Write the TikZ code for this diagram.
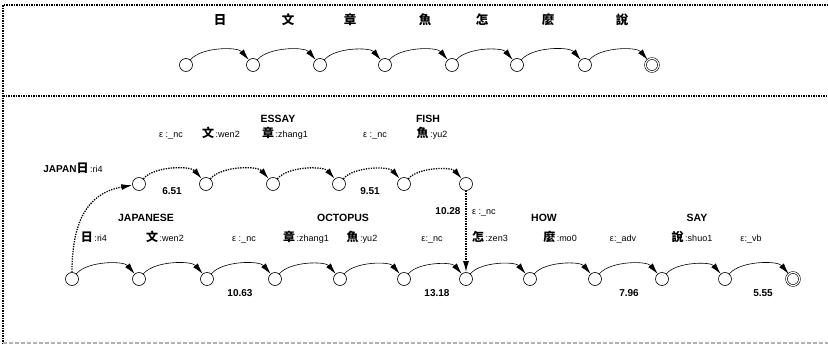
\documentclass[tikz,border=0pt]{standalone}
\usepackage{fontspec}
\setmainfont{Liberation Sans}
\newfontfamily\cjk{Noto Sans CJK TC}
\usetikzlibrary{arrows.meta}

\newcommand{\arclab}[2]{{\cjk\bfseries\fontsize{12}{12}\selectfont #1}\,#2}

\tikzset{
  state/.style={draw, circle, minimum size=13pt, inner sep=0pt, semithick},
  final/.style={state, double, double distance=1.2pt},
  arc/.style={-{Latex[length=11pt,width=6pt]}, semithick, out=50, in=130, looseness=0.75},
  dotarc/.style={arc, line width=1.3pt, dash pattern=on 1.3pt off 1.2pt},
  frame/.style={line width=1.2pt, dash pattern=on 1.5pt off 1pt},
  word/.style={font=\bfseries\fontsize{10.5}{11}\selectfont, anchor=base},
  score/.style={font=\bfseries\fontsize{10}{11}\selectfont, anchor=base},
  tag/.style={font=\fontsize{9}{10}\selectfont, anchor=base, inner sep=1pt},
  hanzi/.style={font=\cjk\bfseries\fontsize{12.5}{13}\selectfont, anchor=base}
}

\begin{document}
\begin{tikzpicture}[x=1pt, y=-1pt]
\useasboundingbox (0,0) rectangle (828,345);

% frames
\draw[frame] (828,5) -- (3,5) -- (3,343);
\draw[frame] (3,96) -- (828,96);
\draw[frame, gray!60, dash pattern=on 4pt off 2pt] (3,343) -- (828,343);

% sentence
\foreach \x [count=\i from 0] in {186,253,320,385,452,517,585}
  \node[state] (t\i) at (\x,65) {};
\node[final] (t7) at (652,65) {};
\foreach \j [count=\i from 0] in {1,...,7}
  \draw[arc] (t\i) to (t\j);
\foreach \c/\x [count=\i] in {日/220,文/288,章/350,魚/425,怎/482,麼/548,說/622}
  \node[hanzi] (h\i) at (\x,25) {\c};

% word lattice, main path
\foreach \x [count=\i from 0] in {72,139,207,275,340,404,466,530,595,662,725}
  \node[state] (b\i) at (\x,279) {};
\node[final] (b11) at (793,279) {};
\foreach \j [count=\i from 0] in {1,...,11}
  \draw[arc] (b\i) to (b\j);

% upper path
\foreach \x [count=\i from 0] in {139,206,273,339,404,466}
  \node[state] (u\i) at (\x,184) {};
\draw[dotarc, out=90, in=190, looseness=1.15] (b0) to (u0);
\foreach \j [count=\i from 0] in {1,...,5}
  \draw[dotarc] (u\i) to (u\j);
\draw[dotarc] (u5) -- (b6);

% labels, main path
\foreach \t/\x [count=\i] in {{\arclab{日}{:ri4}}/94, {\arclab{文}{:wen2}}/165,
    {ε :\_nc}/244, {\arclab{章}{:zhang1}}/306, {\arclab{魚}{:yu2}}/362,
    {ε:\_nc}/432, {\arclab{怎}{:zen3}}/490, {\arclab{麼}{:mo0}}/560,
    {ε:\_adv}/623, {\arclab{說}{:shuo1}}/692, {ε:\_vb}/751}
  \node[tag] (bl\i) at (\x,241) {\t};
\foreach \t/\x [count=\i] in {JAPANESE/146, OCTOPUS/343, HOW/544, SAY/697}
  \node[word] (bw\i) at (\x,221) {\t};
\foreach \t/\x [count=\i] in {10.63/240, 13.18/437, 7.96/629, 5.55/763}
  \node[score] (bs\i) at (\x,296) {\t};

% labels, upper path
\foreach \t/\x [count=\i] in {{ε :\_nc}/171, {\arclab{文}{:wen2}}/221,
    {\arclab{章}{:zhang1}}/285, {ε :\_nc}/375, {\arclab{魚}{:yu2}}/432}
  \node[tag] (ul\i) at (\x,137) {\t};
\node[word] (uw1) at (278,122) {ESSAY};
\node[word] (uw2) at (428,122) {FISH};
\node[score] (us1) at (172,194) {6.51};
\node[score] (us2) at (370,194) {9.51};
\node[tag] (jp) at (73,172) {{\bfseries\fontsize{10}{11}\selectfont JAPAN}\arclab{日}{:ri4}};
\node[score, anchor=base east] (us3) at (464,214) {10.28};
\node[tag, anchor=base west] (ul6) at (471,214) {ε :\_nc};

\end{tikzpicture}
\end{document}
